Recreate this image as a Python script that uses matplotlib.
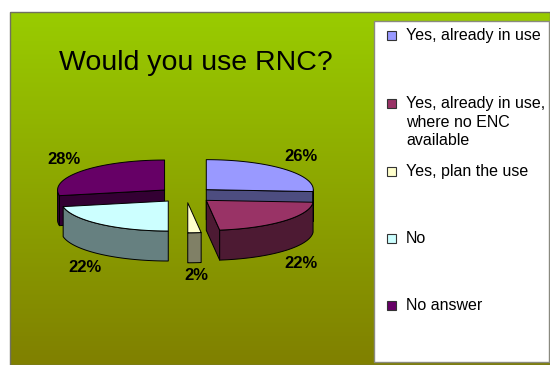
import numpy as np
import matplotlib.pyplot as plt
from matplotlib.patches import Polygon, Rectangle

# =============================================================================== #
# DATA

titulo = "Would you use RNC?"
categorias = [
    "Yes, already in use",
    "Yes, already in use,\nwhere no ENC\navailable",
    "Yes, plan the use",
    "No",
    "No answer",
]
valores = [26, 22, 2, 22, 28]
cores_topo = ["#9999ff", "#993366", "#ffffcc", "#ccffff", "#660066"]
cores_lado = ["#4d4d80", "#4d1a33", "#808066", "#668080", "#330033"]

# =============================================================================== #
# GEOMETRIA DA PIZZA 3D (pixels)

cx0, cy0 = 186, 195
rx, ry = 107, 30
prof = 30
expl = 0.26

W, H = 550, 365
fig = plt.figure(figsize=(W / 100, H / 100), dpi=100)
ax = fig.add_axes([0, 0, 1, 1])
ax.set_xlim(0, W)
ax.set_ylim(H, 0)
ax.axis("off")

# fundo com gradiente
grad = np.linspace(0, 1, 256).reshape(-1, 1)
c_top = np.array([153, 204, 0]) / 255
c_bot = np.array([128, 128, 0]) / 255
img = c_top + (c_bot - c_top) * grad[..., None]
ax.imshow(img, extent=(10, W, H, 12), aspect="auto", zorder=0)
ax.add_patch(Rectangle((10, 12), W - 10, H - 12, fill=False, ec="#707060", lw=1, zorder=1))

ax.text(196, 63, titulo, fontsize=20.5, family="Liberation Sans", ha="center", va="center", zorder=5)


def pt(cx, cy, t, dz=0):
    return (cx + rx * np.cos(t), cy - ry * np.sin(t) + dz)


total = sum(valores)
fatias = []
t = np.pi / 2
for i, v in enumerate(valores):
    t2 = t
    t1 = t - v / total * 2 * np.pi
    mid = (t1 + t2) / 2
    cx = cx0 + expl * rx * np.cos(mid)
    cy = cy0 - expl * ry * np.sin(mid)
    fatias.append((i, t1, t2, mid, cx, cy))
    t = t1

kw = dict(ec="black", lw=0.7, joinstyle="round")
for i, t1, t2, mid, cx, cy in sorted(fatias, key=lambda f: f[5]):
    z = 2 + cy / 100
    # faces radiais
    for ang, vis in [(t1, np.cos(t1) > 1e-6), (t2, np.cos(t2) < -1e-6)]:
        if vis:
            p = pt(cx, cy, ang)
            poly = [(cx, cy), p, (p[0], p[1] + prof), (cx, cy + prof)]
            ax.add_patch(Polygon(poly, fc=cores_lado[i], zorder=z, **kw))
    # parede externa (frente)
    angs = np.linspace(t1, t2, 200)
    frente = angs[np.sin(angs) < 0]
    if len(frente) > 1:
        topo = [pt(cx, cy, a) for a in frente]
        baixo = [pt(cx, cy, a, prof) for a in frente[::-1]]
        ax.add_patch(Polygon(topo + baixo, fc=cores_lado[i], zorder=z + 0.01, **kw))
    # topo
    arco = [pt(cx, cy, a) for a in angs]
    ax.add_patch(Polygon([(cx, cy)] + arco, fc=cores_topo[i], zorder=z + 0.02, **kw))
    # rótulo
    lx = cx + 1.22 * rx * np.cos(mid)
    ly = cy - 1.6 * ry * np.sin(mid) + (prof if np.sin(mid) < 0 else 0)
    if abs(np.cos(mid)) < 0.2:
        ly -= 5
    ax.text(lx, ly, f"{valores[i]}%", fontsize=12, fontweight="bold",
            family="Liberation Sans", ha="center", va="center", zorder=6)

# =============================================================================== #
# LEGENDA

ax.add_patch(Rectangle((374, 21), 175, 341, fc="white", ec="#8a8a80", lw=1, zorder=3))
ys = [36, 104, 172, 239, 306]
for i, nome in enumerate(categorias):
    ax.add_patch(Rectangle((387, ys[i] - 5), 9, 9, fc=cores_topo[i], ec="#333333", lw=0.8, zorder=4))
    ax.text(406, ys[i] - 8, nome, fontsize=11.5, family="Liberation Sans",
            ha="left", va="top", linespacing=1.3, zorder=5)

fig.savefig("out.png", dpi=100)
